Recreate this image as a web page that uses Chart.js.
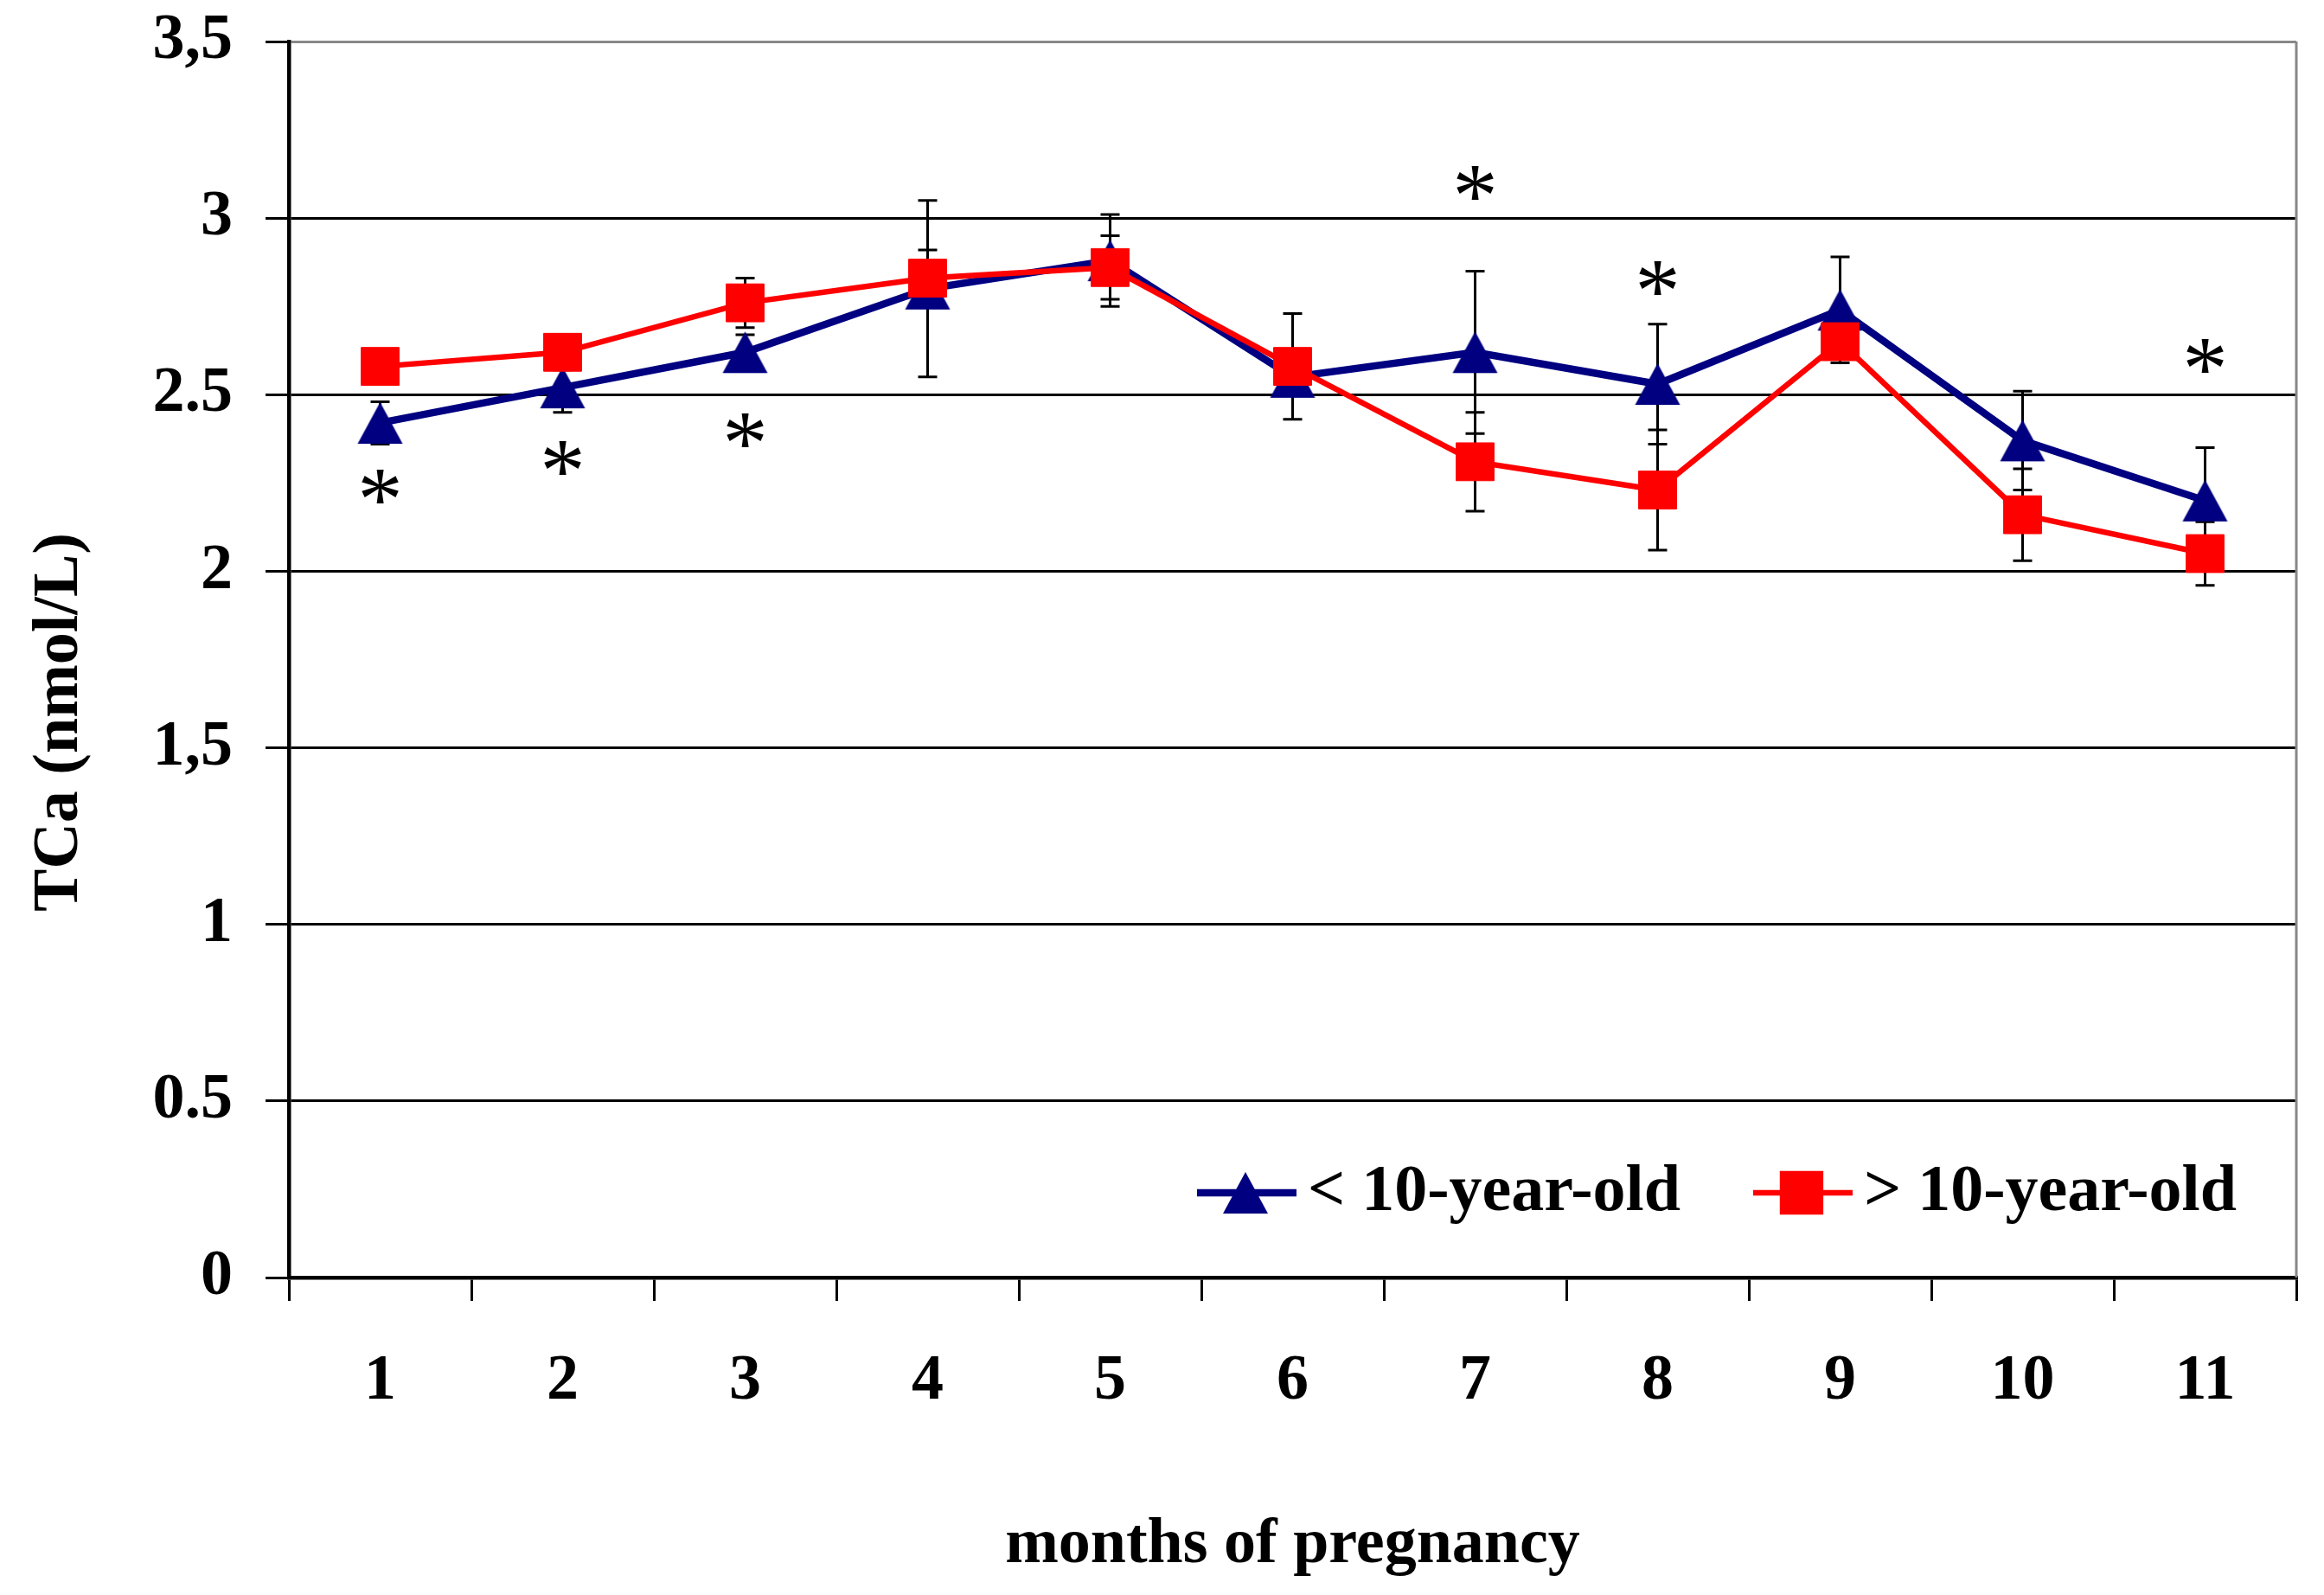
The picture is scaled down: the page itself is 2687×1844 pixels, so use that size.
<!DOCTYPE html>
<html>
<head>
<meta charset="utf-8">
<script src="https://cdn.jsdelivr.net/npm/chart.js@4.4.0/dist/chart.umd.min.js"></script>
<style>
  html, body { margin: 0; padding: 0; background: #fff; }
  #wrap { width: 2687px; height: 1844px; position: relative; }
</style>
</head>
<body>
<div id="wrap"><canvas id="myChart"></canvas></div>
<script>
// data
const months = ['1', '2', '3', '4', '5', '6', '7', '8', '9', '10', '11'];
const youngValues = [2.42, 2.52, 2.62, 2.80, 2.88, 2.55, 2.62, 2.53, 2.74, 2.37, 2.20];
const youngErrors = [0.06, 0.07, 0.05, 0.25, 0.13, 0.05, 0.23, 0.17, 0.15, 0.14, 0.15];
const oldValues = [2.58, 2.62, 2.76, 2.83, 2.86, 2.58, 2.31, 2.23, 2.65, 2.16, 2.05];
const oldErrors = [0.04, 0.05, 0.07, 0.08, 0.09, 0.15, 0.14, 0.17, 0.05, 0.13, 0.09];
const starMonths = ['1', '2', '3', '7', '8', '11'];
const starValues = [2.24, 2.32, 2.40, 3.10, 2.83, 2.61];
const yTickLabels = ['0', '0.5', '1', '1,5', '2', '2.5', '3', '3,5'];

const NAVY = '#000080';
const RED = '#ff0000';
const FONT = "'Liberation Serif', 'Times New Roman', serif";

Chart.defaults.font.family = FONT;
Chart.defaults.color = '#000';

// triangle marker centred on its box (like the Excel one)
function makeTriangle(color) {
  const c = document.createElement('canvas');
  c.width = 54;
  c.height = 50;
  const g = c.getContext('2d');
  g.fillStyle = color;
  g.beginPath();
  g.moveTo(27, 1);
  g.lineTo(53, 49);
  g.lineTo(1, 49);
  g.closePath();
  g.fill();
  return c;
}
const triangle = makeTriangle(NAVY);

//error bars, drawn behind the lines
const errorBars = {
  id: 'errorBars',
  beforeDatasetsDraw(chart) {
    const ctx = chart.ctx;
    const y = chart.scales.y;
    ctx.save();
    ctx.strokeStyle = '#000';
    ctx.lineWidth = 3;
    chart.data.datasets.forEach(function(ds, i) {
      const meta = chart.getDatasetMeta(i);
      meta.data.forEach(function(pt, j) {
        const top = y.getPixelForValue(ds.data[j] + ds.errors[j]);
        const bot = y.getPixelForValue(ds.data[j] - ds.errors[j]);
        ctx.beginPath();
        ctx.moveTo(pt.x, top); ctx.lineTo(pt.x, bot);
        ctx.moveTo(pt.x - 11, top); ctx.lineTo(pt.x + 11, top);
        ctx.moveTo(pt.x - 11, bot); ctx.lineTo(pt.x + 11, bot);
        ctx.stroke();
      });
    });
    ctx.restore();
  }
};

//asterisks, legend, y title, frame
const extras = {
  id: 'extras',
  afterDraw(chart) {
    const ctx = chart.ctx;
    const area = chart.chartArea;
    const x = chart.scales.x;
    const y = chart.scales.y;
    ctx.save();

    // right frame line
    ctx.strokeStyle = '#888';
    ctx.lineWidth = 3;
    ctx.beginPath();
    ctx.moveTo(area.right, area.top);
    ctx.lineTo(area.right, area.bottom);
    ctx.stroke();

    // significance stars
    ctx.fillStyle = '#000';
    ctx.font = '105px ' + FONT;
    ctx.textAlign = 'center';
    ctx.textBaseline = 'alphabetic';
    const m = ctx.measureText('*');
    const shift = (m.actualBoundingBoxAscent - m.actualBoundingBoxDescent) / 2;
    starMonths.forEach(function(mo, k) {
      const px = x.getPixelForValue(months.indexOf(mo));
      const py = y.getPixelForValue(starValues[k]);
      ctx.fillText('*', px, py + shift);
    });

    // legend
    ctx.font = 'bold 76px ' + FONT;
    ctx.textAlign = 'left';
    ctx.textBaseline = 'middle';
    const ly = area.bottom - 98;
    let lx = area.left + 1050;
    chart.data.datasets.forEach(function(ds) {
      ctx.strokeStyle = ds.borderColor;
      ctx.lineWidth = ds.borderWidth;
      ctx.beginPath();
      ctx.moveTo(lx, ly);
      ctx.lineTo(lx + 115, ly);
      ctx.stroke();
      ctx.fillStyle = ds.pointBackgroundColor;
      ctx.strokeStyle = ds.pointBorderColor;
      Chart.helpers.drawPoint(ctx, {
        pointStyle: ds.pointStyle,
        radius: ds.pointRadius,
        borderWidth: ds.pointBorderWidth,
        rotation: 0
      }, lx + 56, ly);
      ctx.fillStyle = '#000';
      ctx.fillText(ds.label, lx + 128, ly);
      lx += 128 + ctx.measureText(ds.label).width + 84;
    });

    // y axis title
    ctx.font = 'bold 74px ' + FONT;
    ctx.translate(70, 835);
    ctx.rotate(-Math.PI / 2);
    ctx.textAlign = 'center';
    ctx.fillText('TCa (nmol/L)', 0, 0);
    ctx.restore();
  }
};

const ctx = document.getElementById('myChart').getContext('2d');

const chart = new Chart(ctx, {
  type: 'line',
  data: {
    labels: months,
    datasets: [{
      label: '< 10-year-old',
      data: youngValues,
      errors: youngErrors,
      borderColor: NAVY,
      borderWidth: 8.5,
      pointStyle: triangle,
      pointRadius: 27,
      pointBackgroundColor: NAVY,
      pointBorderColor: NAVY,
      pointBorderWidth: 0,
      tension: 0,
      order: 1
    },
    {
      label: '> 10-year-old',
      data: oldValues,
      errors: oldErrors,
      borderColor: RED,
      borderWidth: 6.5,
      pointStyle: 'rect',
      pointRadius: 31,
      pointBackgroundColor: RED,
      pointBorderColor: RED,
      pointBorderWidth: 1,
      tension: 0,
      order: 0
    }]
  },
  options: {
    responsive: true,
    maintainAspectRatio: false,
    devicePixelRatio: 1,
    animation: false,
    layout: { padding: { left: 0, right: 31, top: 48, bottom: 0 } },
    plugins: {
      legend: { display: false },
      tooltip: { enabled: false }
    },
    scales: {
      x: {
        offset: true,
        grid: {
          offset: true,
          drawOnChartArea: false,
          drawTicks: true,
          tickLength: 27,
          color: '#000',
          lineWidth: 3
        },
        border: { color: '#000', width: 4.5 },
        ticks: {
          padding: 49,
          font: { size: 74, weight: 'bold' },
          color: '#000'
        },
        title: {
          display: true,
          text: 'months of pregnancy',
          font: { size: 74, weight: 'bold' },
          color: '#000',
          padding: { top: 0, bottom: 13 }
        },
        afterFit: function(scale) {
          scale.height = 367;
          scale.paddingLeft = 0;
          scale.paddingRight = 0;
        }
      },
      y: {
        min: 0,
        max: 3.5,
        grid: {
          color: function(c) { return c.tick && c.tick.value === 3.5 ? '#888' : '#000'; },
          tickColor: '#000',
          lineWidth: 3,
          tickLength: 27
        },
        border: { color: '#000', width: 4.5 },
        ticks: {
          stepSize: 0.5,
          padding: 38,
          font: { size: 74, weight: 'bold' },
          color: '#000',
          callback: function(value, index) { return yTickLabels[index]; }
        },
        afterFit: function(scale) {
          scale.width = 334;
          scale.paddingTop = 0;
          scale.paddingBottom = 0;
        }
      }
    }
  },
  plugins: [errorBars, extras]
});
</script>
</body>
</html>
